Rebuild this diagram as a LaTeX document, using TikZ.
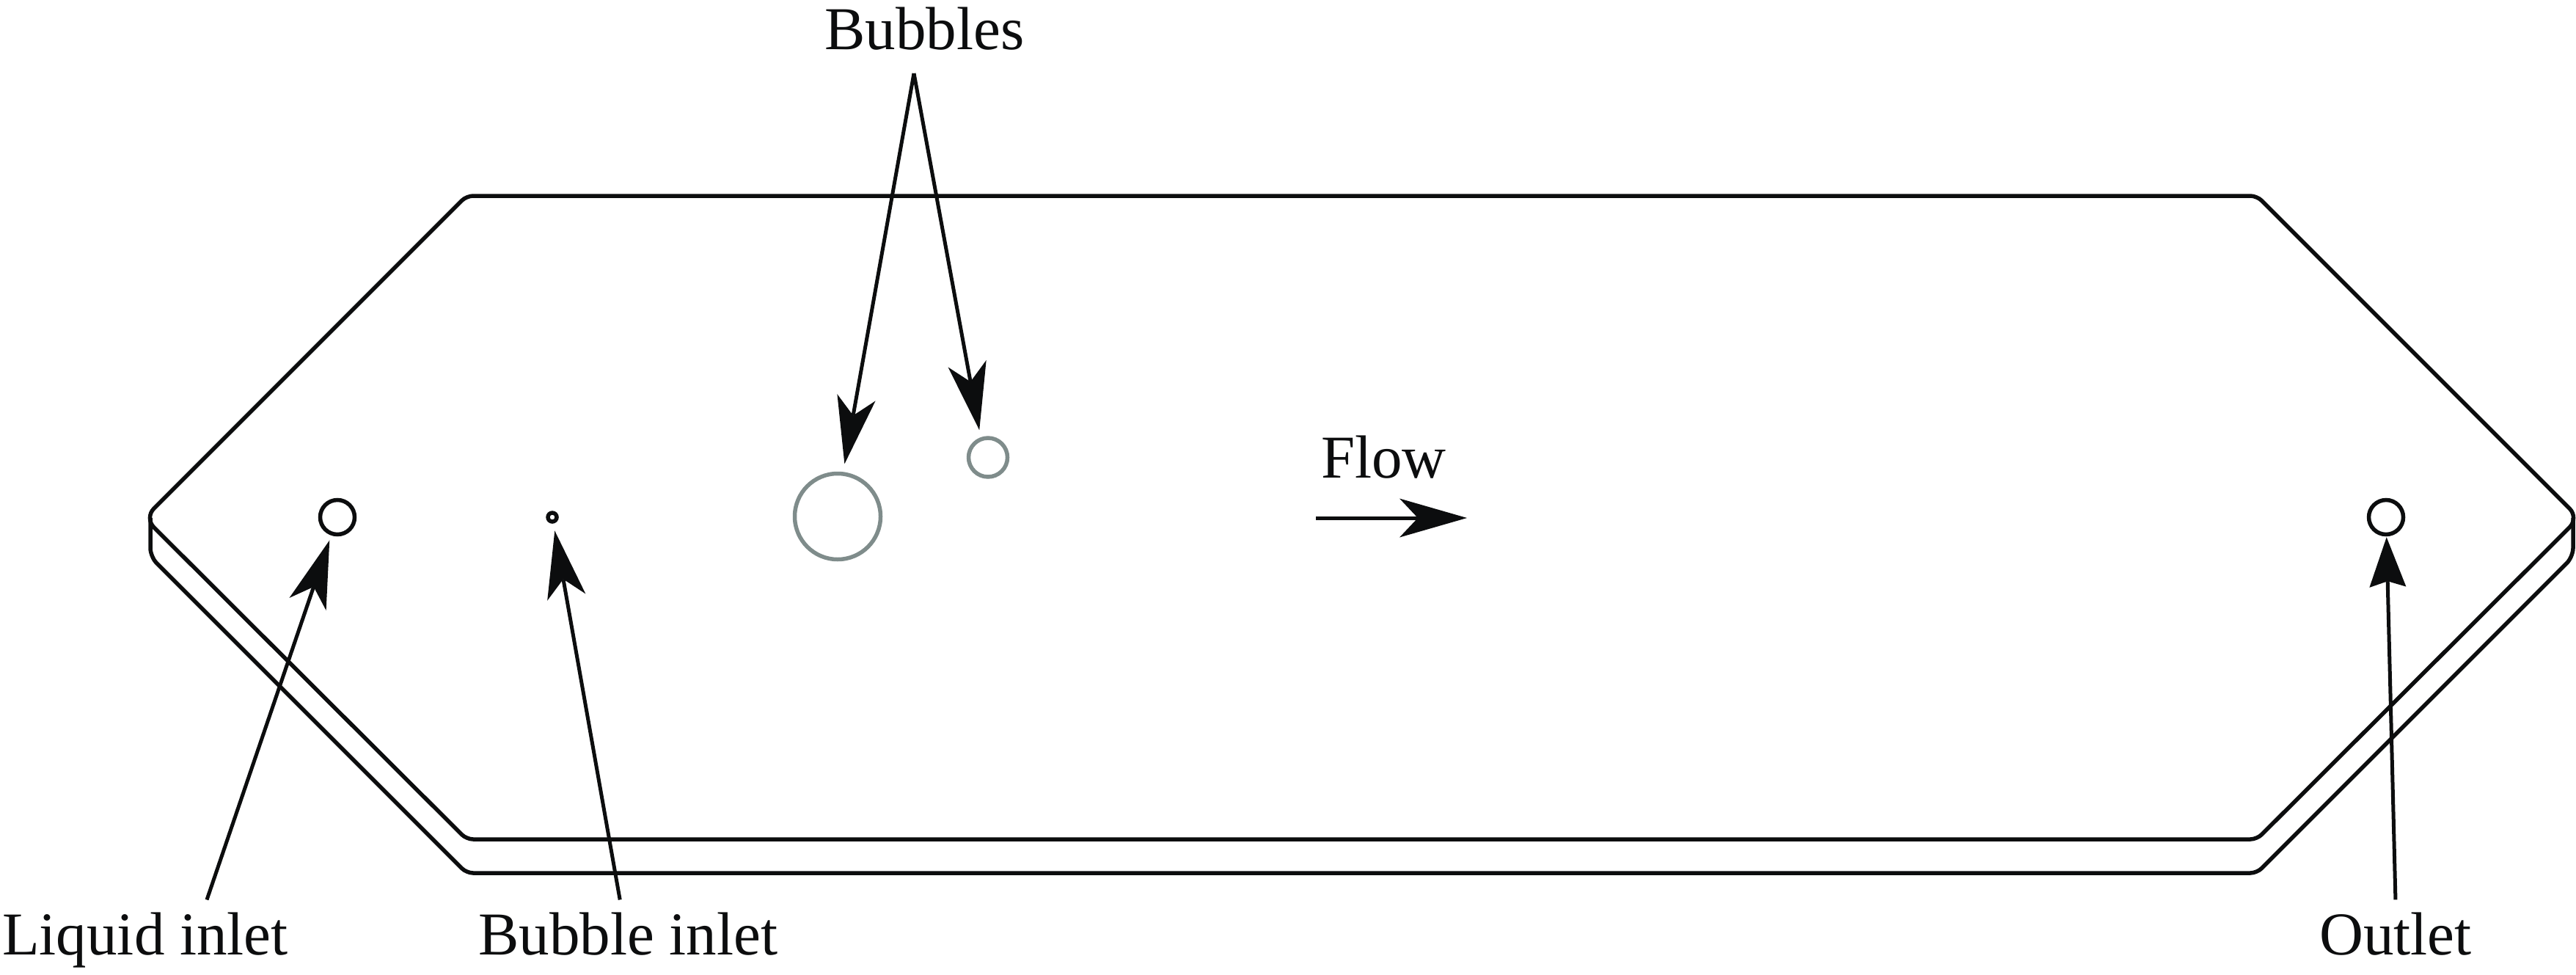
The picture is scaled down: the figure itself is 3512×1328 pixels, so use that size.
\documentclass[tikz,border=0pt]{standalone}
\usepackage{fontspec}
\setmainfont{Liberation Serif}
\usetikzlibrary{arrows.meta}
\definecolor{inkc}{HTML}{0C0D0E}
\definecolor{bubblec}{HTML}{7F8C8B}
\tikzset{
  plate/.style={draw=inkc,line width=5.5pt,line join=round},
  port/.style={circle,draw=inkc,line width=5.5pt,inner sep=0pt,fill=white},
  bubble/.style={circle,draw=bubblec,line width=5.5pt,inner sep=0pt},
  lab/.style={inner sep=0pt,outer ysep=17pt,text=inkc,font=\fontsize{83}{91}\selectfont},
  pointer/.style={draw=inkc,line width=5pt,
    -{Stealth[length=92pt,width=53pt,inset=25pt,line width=0pt,fill=inkc]}},
  blunt/.style={draw=inkc,line width=5pt,
    -{Stealth[length=68pt,width=50pt,inset=8pt,line width=0pt,fill=inkc]}}
}
\begin{document}
\begin{tikzpicture}[x=1pt,y=-1pt]
\useasboundingbox[fill=white] (0,0) rectangle (3512,1328);
% plate
\draw[plate] (1800,267) [rounded corners=9pt] -- (3077,267) [rounded corners=18pt] -- (3516,706) [rounded corners=9pt] -- (3077,1144) -- (636,1144) [rounded corners=18pt] -- (197,706) [rounded corners=9pt] -- (636,267) -- cycle;
\draw[plate] (205,706) [rounded corners=12pt] -- (205,759) [rounded corners=9pt] -- (636,1190) -- (3077,1190) [rounded corners=12pt] -- (3508,759) -- (3508,706);
% ports and bubbles
\node[port,minimum size=47pt] (liquidport) at (460,705) {};
\node[port,minimum size=12pt] (bubbleport) at (753,705) {};
\node[port,minimum size=47pt] (outletport) at (3253,705) {};
\node[bubble,minimum size=117pt] (bigbubble) at (1142,704) {};
\node[bubble,minimum size=53pt] (smallbubble) at (1347,623.5) {};
% labels
\node[lab,anchor=base west] (liquidlabel) at (3,1301) {Liquid inlet};
\node[lab,anchor=base west] (bubblelabel) at (652,1301) {Bubble inlet};
\node[lab,anchor=base west] (outletlabel) at (3162,1301) {Outlet};
\node[lab,anchor=base west] (bubbleslabel) at (1124,67) {Bubbles};
\node[lab,anchor=base west] (flowlabel) at (1801,651) {Flow};
% connectors
\draw[pointer,shorten >=7pt] ([xshift=84pt]liquidlabel.north) -- (liquidport);
\draw[pointer,shorten >=10pt] ([xshift=-11pt]bubblelabel.north) -- (bubbleport);
\draw[blunt,shorten >=1pt] ([xshift=0pt]outletlabel.north) -- (outletport);
\coordinate (apex) at (1246,100);
\draw[pointer,shorten >=11pt] (apex) -- (bigbubble.83.5);
\draw[pointer,shorten >=10pt] (apex) -- (smallbubble.110);
\coordinate (flowtail) at (1794,706);
\coordinate (flowhead) at (2000,706);
\draw[pointer,line width=5pt] (flowtail) -- (flowhead);
\end{tikzpicture}
\end{document}
